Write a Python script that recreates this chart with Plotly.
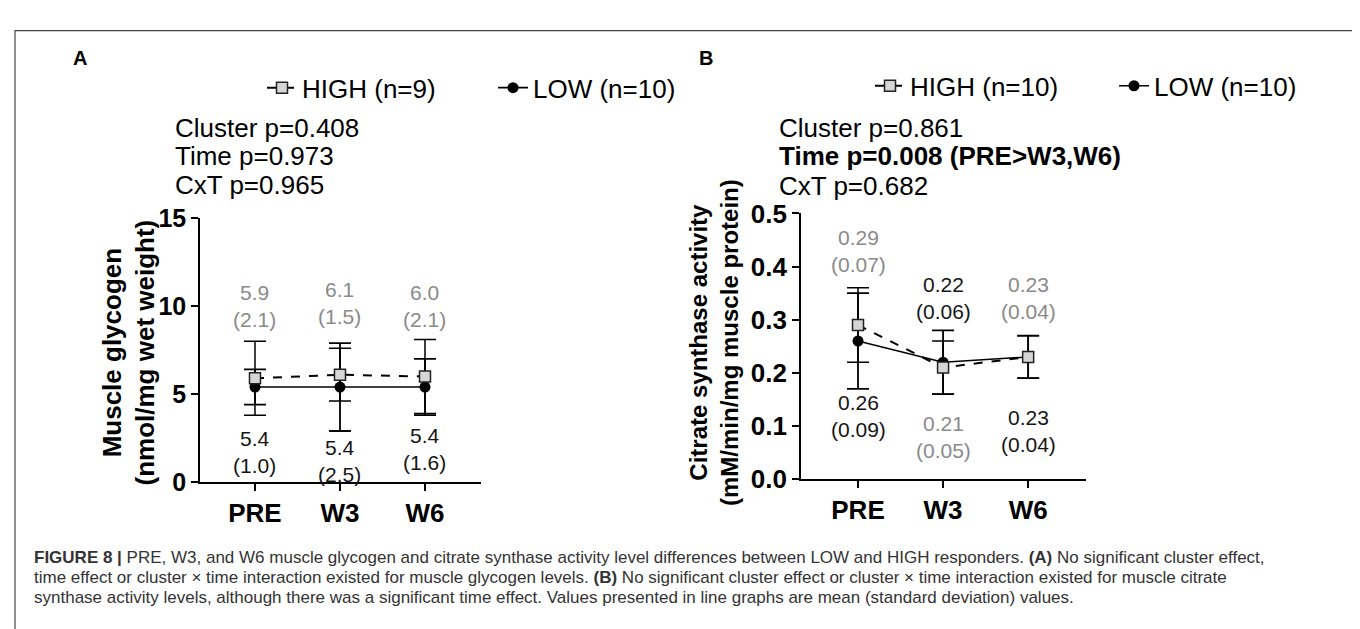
import plotly.graph_objects as go

W, H = 1360, 629
FONT = "Liberation Sans, Arial, Helvetica, sans-serif"

# ---------------- data ----------------
times = ["PRE", "W3", "W6"]

# Panel A: muscle glycogen (nmol/mg wet weight), mean and SD
glyc_high_mean = [5.9, 6.1, 6.0]
glyc_high_sd = [2.1, 1.5, 2.1]
glyc_low_mean = [5.4, 5.4, 5.4]
glyc_low_sd = [1.0, 2.5, 1.6]
glyc_n = [9, 10]          # HIGH, LOW
glyc_ticks = [0, 5, 10, 15]
glyc_stats = ["Cluster p=0.408", "Time p=0.973", "CxT p=0.965"]

# Panel B: citrate synthase activity (mM/min/mg muscle protein)
cs_high_mean = [0.29, 0.21, 0.23]
cs_high_sd = [0.07, 0.05, 0.04]
cs_low_mean = [0.26, 0.22, 0.23]
cs_low_sd = [0.09, 0.06, 0.04]
cs_n = [10, 10]           # HIGH, LOW
cs_ticks = [0.0, 0.1, 0.2, 0.3, 0.4, 0.5]
cs_stats = ["Cluster p=0.861", "<b>Time p=0.008 (PRE>W3,W6)</b>", "CxT p=0.682"]

caption_lines = [
    "<b>FIGURE 8 |</b> PRE, W3, and W6 muscle glycogen and citrate synthase activity level differences between LOW and HIGH responders. <b>(A)</b> No significant cluster effect,",
    "time effect or cluster × time interaction existed for muscle glycogen levels. <b>(B)</b> No significant cluster effect or cluster × time interaction existed for muscle citrate",
    "synthase activity levels, although there was a significant time effect. Values presented in line graphs are mean (standard deviation) values.",
]

# ---------------- layout helpers (pixel -> paper) ----------------
def px(x):
    return x / W


def py(y):
    return 1 - y / H


GRAY_TXT = "#8a8a8a"
BLACK_TXT = "#151515"

fig = go.Figure()


def add_series(mean_low, sd_low, mean_high, sd_high, n, xa, ya, leg):
    fig.add_trace(go.Scatter(
        x=times, y=mean_low, mode="lines+markers", name=f"LOW (n={n[1]})",
        xaxis=xa, yaxis=ya, legend=leg, legendrank=2, cliponaxis=False,
        line=dict(color="black", width=1.6),
        marker=dict(symbol="circle", size=11, color="black"),
        error_y=dict(type="data", array=sd_low, color="black", thickness=1.8, width=11),
    ))
    fig.add_trace(go.Scatter(
        x=times, y=mean_high, mode="lines+markers", name=f"HIGH (n={n[0]})",
        xaxis=xa, yaxis=ya, legend=leg, legendrank=1, cliponaxis=False,
        line=dict(color="black", width=2, dash="dash"),
        marker=dict(symbol="square", size=11, color="#d6d6d6",
                    line=dict(color="#222222", width=1.5)),
        error_y=dict(type="data", array=sd_high, color="black", thickness=1.5, width=11),
    ))


add_series(glyc_low_mean, glyc_low_sd, glyc_high_mean, glyc_high_sd, glyc_n, "x", "y", "legend")
add_series(cs_low_mean, cs_low_sd, cs_high_mean, cs_high_sd, cs_n, "x2", "y2", "legend2")

axis_common = dict(showgrid=False, zeroline=False, showline=True, linecolor="black",
                   linewidth=1.6, ticks="outside", tickcolor="black", tickwidth=1.6,
                   ticklen=7)

fig.update_layout(
    width=W, height=H, margin=dict(l=0, r=0, t=0, b=0),
    paper_bgcolor="white", plot_bgcolor="white",
    font=dict(family=FONT, color="black"),
    xaxis=dict(domain=[px(192), px(473)], anchor="y", type="category",
               categoryorder="array", categoryarray=times, range=[-0.647, 2.659],
               tickfont=dict(size=26, family=FONT, color="black", weight="bold"),
               **axis_common),
    yaxis=dict(domain=[py(482), py(205)], anchor="x", range=[0, 15],
               tickvals=glyc_ticks,
               tickfont=dict(size=25, family=FONT, color="black", weight="bold"),
               **axis_common),
    xaxis2=dict(domain=[px(793), px(1078)], anchor="y2", type="category",
                categoryorder="array", categoryarray=times, range=[-0.67, 2.68],
                tickfont=dict(size=26, family=FONT, color="black", weight="bold"),
                **axis_common),
    yaxis2=dict(domain=[py(479), py(200)], anchor="x2", range=[0, 0.5],
                tickvals=cs_ticks, tickformat=".1f",
                tickfont=dict(size=26, family=FONT, color="black", weight="bold"),
                **axis_common),
    legend=dict(orientation="h", x=px(254), y=py(68), xanchor="left", yanchor="middle",
                font=dict(size=26, family=FONT, color="black"),
                entrywidth=186, entrywidthmode="pixels", bgcolor="rgba(0,0,0,0)"),
    legend2=dict(orientation="h", x=px(862), y=py(66), xanchor="left", yanchor="middle",
                 font=dict(size=26, family=FONT, color="black"),
                 entrywidth=199, entrywidthmode="pixels", bgcolor="rgba(0,0,0,0)"),
    showlegend=True,
)

ann = []


def paper_text(text, x, y, size, xanchor="left", color="black", angle=0, bold=False):
    ann.append(dict(text=(f"<b>{text}</b>" if bold else text), x=px(x), y=py(y),
                    xref="paper", yref="paper", xanchor=xanchor, yanchor="middle",
                    showarrow=False, textangle=angle,
                    font=dict(size=size, family=FONT, color=color)))


# panel letters
paper_text("A", 72, 37, 20, xanchor="center", bold=True)
paper_text("B", 698, 37, 20, xanchor="center", bold=True)

# statistics text
for s, yy in zip(glyc_stats, [110, 140, 170]):
    paper_text(s, 165, yy, 26)
for s, yy in zip(cs_stats, [110, 140, 171]):
    paper_text(s, 769, yy, 26)

# y-axis titles (rotated two-line text)
paper_text("Muscle glycogen<br>(nmol/mg wet weight)", 121, 346, 26,
           xanchor="center", angle=-90, bold=True)
paper_text("Citrate synthase activity<br>(mM/min/mg muscle protein)", 706, 336, 24,
           xanchor="center", angle=-90, bold=True)


def add_label(t, m, s, fmt, yy, color, xa, ya):
    ann.append(dict(text=format(m, fmt) + "<br>(" + format(s, fmt) + ")",
                    x=t, y=yy, xref=xa, yref=ya, showarrow=False,
                    xanchor="center", yanchor="middle",
                    font=dict(size=21, family=FONT, color=color)))


# Panel A value labels: HIGH above (gray), LOW below (black); y = label placement
glyc_high_label_y = [9.99, 10.18, 9.99]
glyc_low_label_y = [1.68, 1.22, 1.87]
for t, m, s, yy in zip(times, glyc_high_mean, glyc_high_sd, glyc_high_label_y):
    add_label(t, m, s, ".1f", yy, GRAY_TXT, "x", "y")
for t, m, s, yy in zip(times, glyc_low_mean, glyc_low_sd, glyc_low_label_y):
    add_label(t, m, s, ".1f", yy, BLACK_TXT, "x", "y")

# Panel B value labels
cs_high_label_y = [0.429, 0.080, 0.340]
cs_low_label_y = [0.119, 0.340, 0.0905]
for t, m, s, yy in zip(times, cs_high_mean, cs_high_sd, cs_high_label_y):
    add_label(t, m, s, ".2f", yy, GRAY_TXT, "x2", "y2")
for t, m, s, yy in zip(times, cs_low_mean, cs_low_sd, cs_low_label_y):
    add_label(t, m, s, ".2f", yy, BLACK_TXT, "x2", "y2")

# caption
for line, yy in zip(caption_lines, [561, 582, 603]):
    paper_text(line, 24, yy, 17, color="#333333")

fig.update_layout(annotations=ann)

# outer frame
fig.add_shape(type="rect", xref="paper", yref="paper", x0=px(7), x1=px(1355),
              y0=py(640), y1=py(8), line=dict(color="#444444", width=1.2),
              fillcolor="rgba(0,0,0,0)", layer="below")

fig.write_html("out.html")
